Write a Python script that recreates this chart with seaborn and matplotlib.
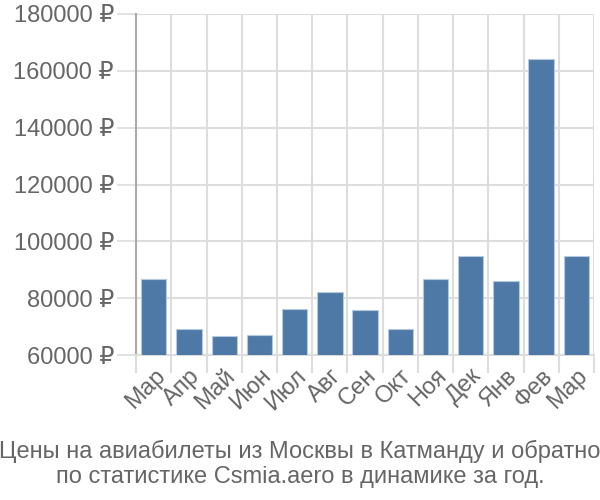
import matplotlib
matplotlib.use("Agg")
import matplotlib.pyplot as plt
import seaborn as sns
import pandas as pd

months = ["Мар", "Апр", "Май", "Июн", "Июл", "Авг", "Сен", "Окт", "Ноя", "Дек", "Янв", "Фев", "Мар "]
prices = [86900, 69100, 66600, 67100, 76200, 82200, 76000, 69000, 86700, 94700, 86000, 164200, 94700]
yticks = [60000, 80000, 100000, 120000, 140000, 160000, 180000]
title = "Цены на авиабилеты из Москвы в Катманду и обратно\nпо статистике Csmia.aero в динамике за год."

sns.set_theme(style="white")
plt.rcParams['font.family'] = ['Liberation Sans', 'DejaVu Sans']

df = pd.DataFrame({"month": months, "price": prices})

fig = plt.figure(figsize=(6, 5), dpi=100)
ax = fig.add_axes([0.227, 0.29, 0.763, 0.682])

sns.barplot(data=df, x="month", y="price", color="#4e79a7", saturation=1, width=0.72,
            edgecolor="#b5c9de", linewidth=0.8, ax=ax, zorder=3)

ax.set_ylim(60000, 180000)
ax.set_xlim(-0.5, len(months) - 0.5)
ax.set_yticks(yticks)
ax.set_yticklabels([f"{v} ₽" for v in yticks])
ax.set_xticks(range(len(months)))
ax.set_xticklabels([m.strip() for m in months], rotation=45, ha="right", rotation_mode="anchor")

# grid lines at category boundaries
bounds = [i - 0.5 for i in range(len(months) + 1)]
for b in bounds:
    ax.axvline(b, color="#dddddd", lw=1.5, zorder=1)
for y in yticks:
    ax.axhline(y, color="#dddddd", lw=1.5, zorder=1)

# boundary tick marks below axis
ax.set_xticks(bounds, minor=True)
ax.tick_params(axis="x", which="minor", length=13, color="#dddddd", width=1.5, bottom=True)
ax.tick_params(axis="x", which="major", length=0, pad=7, labelsize=17, labelcolor="#666666")
ax.tick_params(axis="y", which="major", length=14, color="#dddddd", width=1.2, left=True,
               pad=2, labelsize=17, labelcolor="#666666")

for s in ["top", "right"]:
    ax.spines[s].set_visible(False)
ax.spines["left"].set_color("#aaaaaa")
ax.spines["left"].set_linewidth(1.5)
ax.spines["bottom"].set_color("#dddddd")
ax.spines["bottom"].set_linewidth(1.5)

ax.set_xlabel("")
ax.set_ylabel("")

fig.text(0.5, 0.025, title, ha="center", va="bottom", fontsize=17, color="#666666",
         linespacing=1.15)

fig.savefig("out.png", dpi=100)
